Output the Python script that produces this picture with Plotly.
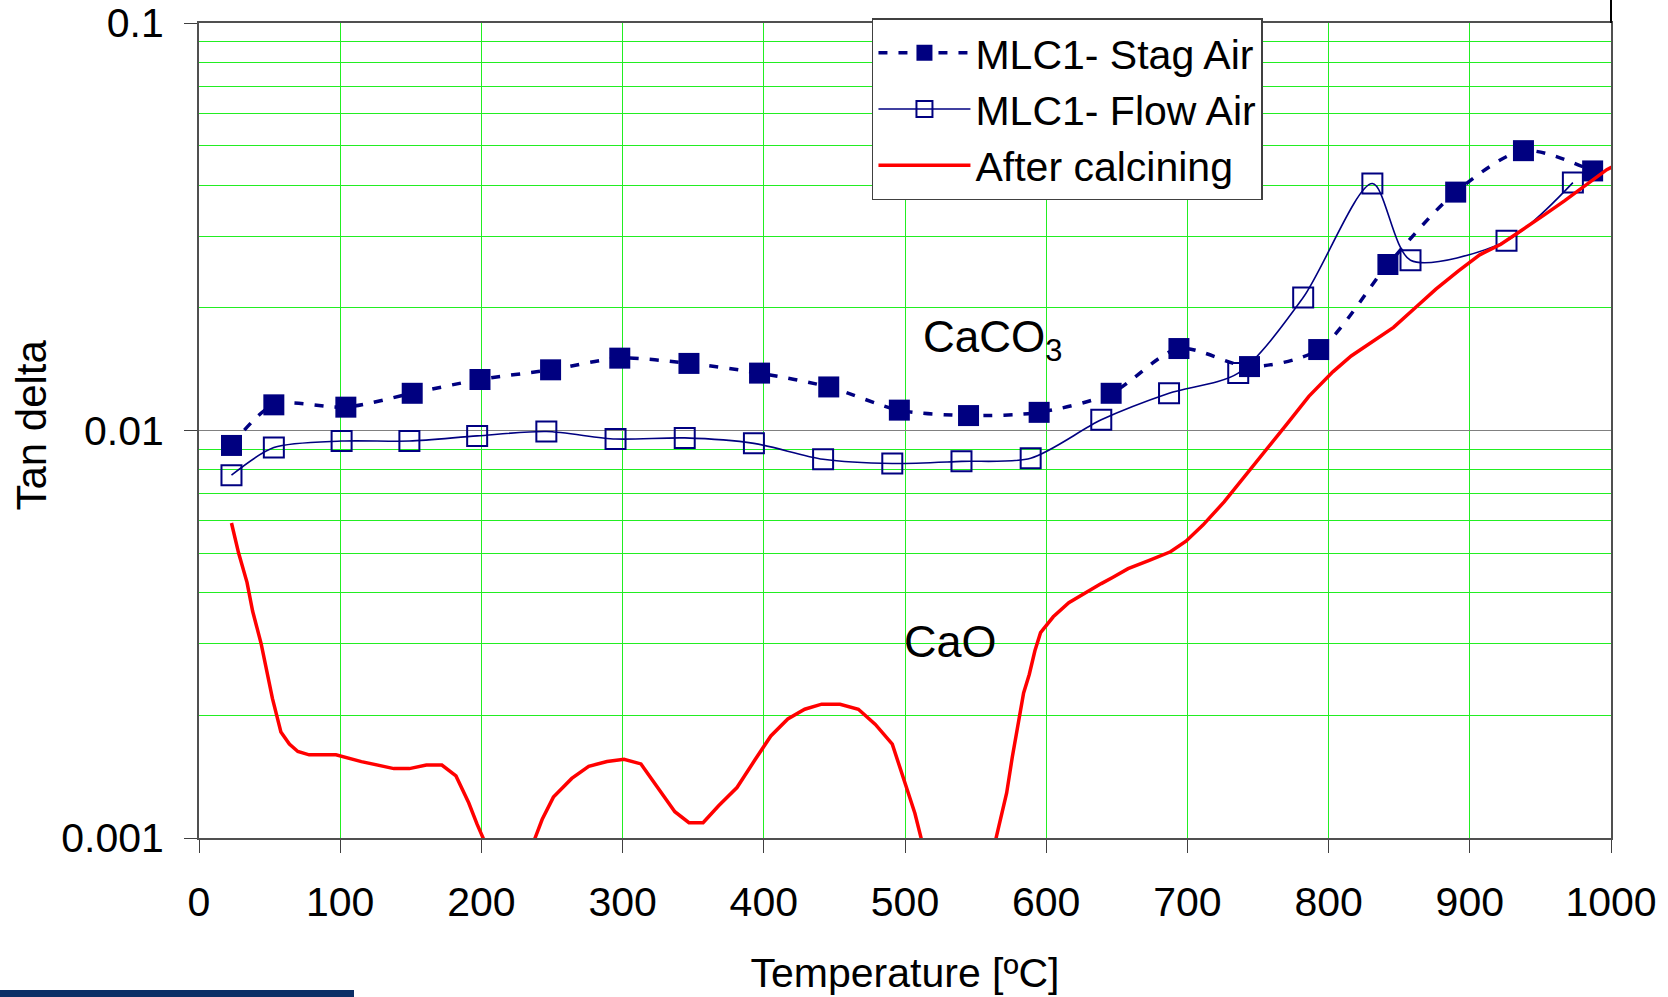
import math
import plotly.graph_objects as go

# ---------------- data ----------------
stag_T = [23, 53, 104, 151, 199, 249, 298, 347, 397, 446, 496, 545, 595, 646, 694, 744, 793, 842, 890, 938, 987]
stag_tan = [0.00919, 0.01156, 0.01141, 0.01234, 0.01334, 0.01409, 0.01505, 0.01461, 0.01383, 0.01279,
            0.01122, 0.01088, 0.01108, 0.01234, 0.01589, 0.01435, 0.01580, 0.02555, 0.03846, 0.04861, 0.04335]

flow_T = [23, 53, 101, 149, 197, 246, 295, 344, 393, 442, 491, 540, 589, 639, 687, 736, 782, 831, 858, 926, 973]
flow_tan = [0.00777, 0.00908, 0.00942, 0.00942, 0.00970, 0.00994, 0.00953, 0.00959, 0.00930, 0.00850,
            0.00830, 0.00840, 0.00855, 0.01062, 0.01234, 0.01383, 0.02120, 0.04036, 0.02618, 0.02920, 0.04058]

calc_T = [23, 28, 34, 38, 44, 48, 52, 58, 64, 70, 78, 97, 115, 138, 149, 161, 172, 182, 191, 197, 204,
          None,
          233, 238, 243, 251, 264, 276, 289, 301, 313, 325, 337, 347, 357, 368, 381, 394, 405, 417, 429,
          441, 454, 467, 479, 491, 501, 507, 513,
          None,
          563, 567, 572, 576, 580, 584, 588, 592, 596, 605, 616, 628, 639, 647, 658, 673, 688, 699, 711,
          726, 741, 756, 771, 786, 803, 816, 831, 846, 861, 876, 892, 907, 922, 937, 952, 967, 982, 997, 1007]
calc_tan = [0.00593, 0.00501, 0.00424, 0.00360, 0.00300, 0.00259, 0.00220, 0.00182, 0.00170, 0.00163,
            0.00160, 0.00160, 0.00154, 0.00148, 0.00148, 0.00151, 0.00151, 0.00142, 0.00122, 0.00108, 0.00095,
            None,
            0.00093, 0.00100, 0.00111, 0.00126, 0.00140, 0.00150, 0.00154, 0.00156, 0.00152, 0.00133,
            0.00116, 0.00109, 0.00109, 0.00120, 0.00133, 0.00156, 0.00178, 0.00196, 0.00207, 0.00213,
            0.00213, 0.00207, 0.00190, 0.00170, 0.00133, 0.00115, 0.00095,
            None,
            0.00095, 0.00108, 0.00129, 0.00158, 0.00189, 0.00227, 0.00252, 0.00288, 0.00319, 0.00349,
            0.00378, 0.00401, 0.00421, 0.00436, 0.00458, 0.00480, 0.00504, 0.00535, 0.00586, 0.00668,
            0.00777, 0.00903, 0.01043, 0.01213, 0.01393, 0.01524, 0.01657, 0.01791, 0.01995, 0.02223,
            0.02464, 0.02698, 0.02864, 0.03097, 0.03367, 0.03661, 0.03989, 0.04365, 0.04550]

series_names = ["MLC1- Stag Air", "MLC1- Flow Air", "After calcining"]
x_ticks = [0, 100, 200, 300, 400, 500, 600, 700, 800, 900, 1000]
y_ticks = [0.001, 0.01, 0.1]
y_ticktext = ["0.001", "0.01", "0.1"]
minor_y = [m * 10 ** e for e in (-3, -2) for m in range(2, 10)]

NAVY = "#000080"
FONT = "Arial, Liberation Sans, sans-serif"

fig = go.Figure()
fig.add_trace(go.Scatter(
    x=stag_T, y=stag_tan, name=series_names[0], mode="lines+markers",
    line=dict(color=NAVY, width=3.5, dash="9px,11px", shape="spline", smoothing=0.8),
    marker=dict(symbol="square", size=21, color=NAVY, line=dict(width=0)),
))
fig.add_trace(go.Scatter(
    x=flow_T, y=flow_tan, name=series_names[1], mode="lines+markers",
    line=dict(color=NAVY, width=1.6, shape="spline", smoothing=0.8),
    marker=dict(symbol="square-open", size=20, color=NAVY, line=dict(width=2)),
))
fig.add_trace(go.Scatter(
    x=calc_T, y=calc_tan, name=series_names[2], mode="lines",
    line=dict(color="#ff0000", width=3.5), connectgaps=False,
))

fig.add_annotation(x=562, y=math.log10(0.0167), xref="x", yref="y",
                   text="CaCO<sub>3</sub>", showarrow=False,
                   font=dict(family=FONT, size=44, color="black"))
fig.add_annotation(x=532, y=math.log10(0.00304), xref="x", yref="y",
                   text="CaO", showarrow=False,
                   font=dict(family=FONT, size=45, color="black"))
# y-axis title
fig.add_annotation(x=-167/1412, y=0.506, xref="paper", yref="paper",
                   text="Tan delta", textangle=-90, showarrow=False,
                   xanchor="center", yanchor="middle",
                   font=dict(family=FONT, size=42, color="black"))

# decorative artefacts of the original screenshot
fig.add_shape(type="line", xref="paper", yref="paper", x0=1, x1=1, y0=1, y1=1.03,
              line=dict(color="black", width=2))
fig.add_shape(type="rect", xref="paper", yref="paper", x0=-199/1412, x1=155/1412,
              y0=-159/815, y1=-152/815, line=dict(width=0), fillcolor="#0b2f66")

fig.update_layout(
    width=1668, height=997,
    margin=dict(l=199, r=57, t=23, b=159, autoexpand=False),
    paper_bgcolor="white", plot_bgcolor="white",
    font=dict(family=FONT, size=41, color="black"),
    showlegend=True,
    legend=dict(x=0.4766, y=1.006, xanchor="left", yanchor="top",
                bgcolor="white", bordercolor="#404040", borderwidth=1.5,
                font=dict(family=FONT, size=41, color="black"),
                itemwidth=92, tracegroupgap=0),
    xaxis=dict(
        range=[0, 1000], tickvals=x_ticks, ticks="outside", ticklen=13,
        tickcolor="#404040", showgrid=True, gridcolor="#22ee22", gridwidth=1,
        showline=True, linecolor="#505050", linewidth=2, mirror=True,
        zeroline=False, tickfont=dict(size=41), automargin=False, ticklabelstandoff=14,
        title=dict(text="Temperature [ºC]", font=dict(size=41), standoff=34),
    ),
    yaxis=dict(
        type="log", range=[-3, -1], tickvals=y_ticks, ticktext=y_ticktext,
        ticks="outside", ticklen=13, tickcolor="#404040",
        showgrid=True, gridcolor="#808080", gridwidth=1,
        minor=dict(tickvals=minor_y, showgrid=True, gridcolor="#22ee22", gridwidth=1, ticks=""),
        showline=True, linecolor="#505050", linewidth=2, mirror=True,
        zeroline=False, tickfont=dict(size=41), ticklabelstandoff=12, automargin=False,
    ),
)

fig.write_html("out.html", config={"displayModeBar": False},
               post_script="document.body.style.margin='0';document.body.style.overflow='hidden';")
